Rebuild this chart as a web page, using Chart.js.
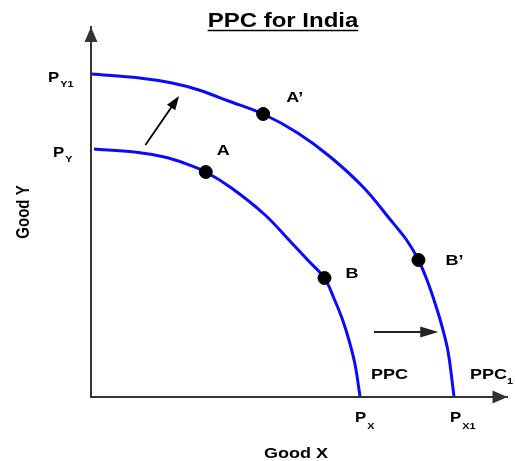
<!DOCTYPE html>
<html>
<head>
<meta charset="utf-8">
<script src="https://cdn.jsdelivr.net/npm/chart.js@4"></script>
<style>
  html, body { margin: 0; padding: 0; background: #fff; }
</style>
</head>
<body>
<canvas id="ppcChart" width="515" height="461"></canvas>
<script>
// PPC for India (units: good X / good Y)
const ppcInnerX = [3, 44, 74, 94, 116, 142, 176, 202, 220, 236, 245, 254, 261, 267, 272];
const ppcInnerY = [248, 245, 240, 234, 225, 209, 182, 155, 136, 119, 100, 78, 56, 32, 0];
const ppcOuterX = [1, 49, 82, 109, 139, 174, 209, 242, 276, 302, 319, 331, 340, 348, 355, 361, 367];
const ppcOuterY = [323, 319, 314, 307, 296, 283, 264, 240, 209, 178, 157, 137, 116, 93, 70, 45, 0];

const pointNames = ["A", "B", "A\u2019", "B\u2019"];
const pointX = [116, 236, 174, 331];
const pointY = [225, 119, 283, 137];

const interceptY = [248, 323];   // P_Y, P_Y1
const interceptX = [272, 368];   // P_X, P_X1

const FONT = "'Liberation Sans', Arial, sans-serif";
const STRETCH = 1.2;

function toXY(xs, ys) {
    return xs.map((x, i) => ({ x: x, y: ys[i] }));
}

function drawText(ctx, text, x, y, size, align) {
    ctx.save();
    ctx.translate(x, y);
    ctx.scale(STRETCH, 1);
    ctx.font = "bold " + size + "px " + FONT;
    ctx.textAlign = align || "left";
    ctx.textBaseline = "alphabetic";
    ctx.fillStyle = "#000";
    ctx.fillText(text, 0, 0);
    const w = ctx.measureText(text).width * STRETCH;
    ctx.restore();
    return w;
}

function arrow(ctx, x1, y1, x2, y2, headLen, headW, width, color) {
    const ang = Math.atan2(y2 - y1, x2 - x1);
    ctx.save();
    ctx.strokeStyle = color;
    ctx.fillStyle = color;
    ctx.lineWidth = width;
    ctx.beginPath();
    ctx.moveTo(x1, y1);
    ctx.lineTo(x2 - Math.cos(ang) * headLen * 0.8, y2 - Math.sin(ang) * headLen * 0.8);
    ctx.stroke();
    ctx.translate(x2, y2);
    ctx.rotate(ang);
    ctx.beginPath();
    ctx.moveTo(0, 0);
    ctx.lineTo(-headLen, -headW / 2);
    ctx.lineTo(-headLen, headW / 2);
    ctx.closePath();
    ctx.fill();
    ctx.restore();
}

const decorPlugin = {
    id: "decor",
    afterDraw(chart) {
        const ctx = chart.ctx;
        const xs = chart.scales.x;
        const ys = chart.scales.y;
        const px = v => xs.getPixelForValue(v);
        const py = v => ys.getPixelForValue(v);
        const area = chart.chartArea;

        // axis arrow heads
        arrow(ctx, area.left, area.bottom, area.left, area.top, 15, 13, 2, "#333");
        arrow(ctx, area.left, area.bottom, area.right, area.bottom, 15, 13, 2, "#333");

        // title, underlined
        const tw = drawText(ctx, "PPC for India", 283, 27, 20, "center");
        ctx.save();
        ctx.strokeStyle = "#000";
        ctx.lineWidth = 1.5;
        ctx.beginPath();
        ctx.moveTo(283 - tw / 2, 30.5);
        ctx.lineTo(283 + tw / 2, 30.5);
        ctx.stroke();
        ctx.restore();

        // axis titles
        drawText(ctx, "Good X", 296, 458, 15, "center");
        ctx.save();
        ctx.translate(29, 212);
        ctx.rotate(-Math.PI / 2);
        ctx.font = "bold 15px " + FONT;
        ctx.textAlign = "center";
        ctx.fillStyle = "#000";
        ctx.scale(1, STRETCH);
        ctx.fillText("Good Y", 0, 0);
        ctx.restore();

        // intercept labels on Y axis
        const ySubs = ["Y", "Y1"];
        const yLeft = [53, 48];
        interceptY.forEach((v, i) => {
            const y = py(v);
            const w = drawText(ctx, "P", yLeft[i], y + 8, 14);
            drawText(ctx, ySubs[i], yLeft[i] + w + 1, y + 13, 9);
        });

        // intercept labels on X axis
        const xSubs = ["X", "X1"];
        interceptX.forEach((v, i) => {
            const x = px(v);
            const w = drawText(ctx, "P", x - 5, area.bottom + 25, 14);
            drawText(ctx, xSubs[i], x - 5 + w + 1, area.bottom + 32, 9);
        });

        // curve names
        drawText(ctx, "PPC", px(interceptX[0]) + 11, area.bottom - 18, 15);
        const w = drawText(ctx, "PPC", px(interceptX[1]) + 15, area.bottom - 18, 15);
        drawText(ctx, "1", px(interceptX[1]) + 15 + w, area.bottom - 13, 9);

        // point labels
        const offs = [[11, -17], [21, 0], [23, -12], [27, 5]];
        pointNames.forEach((n, i) => {
            drawText(ctx, n, px(pointX[i]) + offs[i][0], py(pointY[i]) + offs[i][1], 15);
        });

        // shift arrows
        arrow(ctx, px(55), py(252), px(89), py(301), 14, 10, 1.8, "#000");
        arrow(ctx, px(286), py(65), px(351), py(65), 18, 11, 2, "#222");
    }
};

const curveStyle = {
    showLine: true,
    borderColor: "#0a0aff",
    borderWidth: 3,
    pointRadius: 0,
    tension: 0.35,
    order: 2
};

new Chart(document.getElementById("ppcChart"), {
    type: "scatter",
    data: {
        datasets: [
            Object.assign({ label: "PPC", data: toXY(ppcInnerX, ppcInnerY) }, curveStyle),
            Object.assign({ label: "PPC1", data: toXY(ppcOuterX, ppcOuterY) }, curveStyle),
            {
                label: "Points",
                data: toXY(pointX, pointY),
                showLine: false,
                pointRadius: 6.5,
                pointBackgroundColor: "#000",
                pointBorderColor: "#000",
                order: 1
            }
        ]
    },
    options: {
        responsive: false,
        animation: false,
        layout: { padding: { top: 27, right: 3, left: 0, bottom: 0 } },
        plugins: {
            legend: { display: false },
            tooltip: { enabled: false }
        },
        scales: {
            x: {
                type: "linear",
                min: 0,
                max: 421,
                grid: { display: false },
                ticks: { display: false },
                border: { color: "#333", width: 2 },
                afterFit: s => { s.height = 64; }
            },
            y: {
                type: "linear",
                min: 0,
                max: 370,
                grid: { display: false },
                ticks: { display: false },
                border: { color: "#333", width: 2 },
                afterFit: s => { s.width = 91; }
            }
        }
    },
    plugins: [decorPlugin]
});
</script>
</body>
</html>
